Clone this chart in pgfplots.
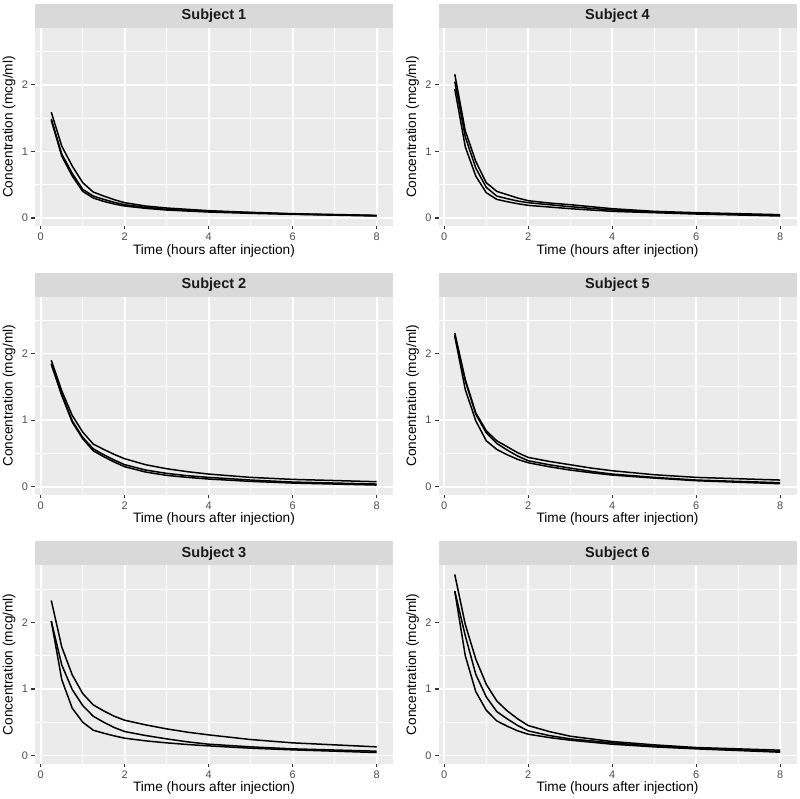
\documentclass[border=0pt]{standalone}
\usepackage{fontspec}
\setmainfont{Liberation Sans}
\usepackage{pgfplots}
\usepackage{pgfplotstable}
\pgfplotsset{compat=1.18}
\definecolor{panelbg}{HTML}{EBEBEB}
\definecolor{stripbg}{HTML}{D9D9D9}
\definecolor{gtick}{HTML}{333333}
\definecolor{gtext}{HTML}{4D4D4D}
\definecolor{gstrip}{HTML}{1A1A1A}

% Subject data: time, three fitted curves
\pgfplotstableread{
t a b c
0.25 1.59 1.49 1.47
0.5 1.08 0.96 0.93
0.75 0.78 0.67 0.63
1 0.53 0.43 0.40
1.25 0.39 0.33 0.30
1.5 0.33 0.28 0.25
1.75 0.275 0.235 0.21
2 0.23 0.20 0.18
2.5 0.18 0.16 0.145
3 0.15 0.13 0.12
3.5 0.13 0.115 0.105
4 0.11 0.10 0.09
5 0.085 0.08 0.07
6 0.065 0.06 0.055
8 0.04 0.035 0.03
}\subjA
\pgfplotstableread{
t a b c
0.25 1.90 1.85 1.84
0.5 1.44 1.39 1.37
0.75 1.07 0.99 0.97
1 0.82 0.74 0.72
1.25 0.64 0.57 0.54
1.5 0.56 0.48 0.45
1.75 0.485 0.40 0.37
2 0.42 0.33 0.30
2.5 0.33 0.25 0.22
3 0.27 0.20 0.17
3.5 0.225 0.165 0.14
4 0.19 0.14 0.115
5 0.14 0.10 0.08
6 0.11 0.07 0.055
8 0.075 0.04 0.025
}\subjB
\pgfplotstableread{
t a b c
0.25 2.33 2.02 2.02
0.5 1.63 1.36 1.14
0.75 1.21 0.99 0.71
1 0.93 0.75 0.50
1.25 0.76 0.59 0.38
1.5 0.67 0.50 0.335
1.75 0.59 0.42 0.295
2 0.53 0.36 0.26
2.5 0.46 0.30 0.22
3 0.40 0.25 0.19
3.5 0.35 0.205 0.165
4 0.31 0.17 0.145
5 0.24 0.13 0.11
6 0.19 0.10 0.085
8 0.13 0.065 0.045
}\subjC
\pgfplotstableread{
t a b c
0.25 2.16 2.05 1.94
0.5 1.31 1.22 1.07
0.75 0.85 0.75 0.63
1 0.53 0.46 0.38
1.25 0.40 0.33 0.28
1.5 0.35 0.29 0.245
1.75 0.30 0.255 0.215
2 0.26 0.23 0.19
2.5 0.225 0.20 0.165
3 0.20 0.17 0.14
3.5 0.17 0.145 0.12
4 0.14 0.12 0.10
5 0.10 0.09 0.08
6 0.08 0.07 0.06
8 0.05 0.04 0.03
}\subjD
\pgfplotstableread{
t a b c
0.25 2.31 2.28 2.26
0.5 1.61 1.59 1.46
0.75 1.11 1.09 0.99
1 0.84 0.81 0.69
1.25 0.69 0.65 0.56
1.5 0.60 0.55 0.48
1.75 0.51 0.46 0.41
2 0.44 0.39 0.36
2.5 0.38 0.33 0.30
3 0.33 0.28 0.25
3.5 0.28 0.23 0.21
4 0.24 0.19 0.175
5 0.18 0.14 0.13
6 0.14 0.10 0.09
8 0.10 0.06 0.045
}\subjE
\pgfplotstableread{
t a b c
0.25 2.72 2.47 2.47
0.5 1.97 1.80 1.50
0.75 1.45 1.22 0.96
1 1.07 0.88 0.68
1.25 0.82 0.66 0.52
1.5 0.67 0.55 0.44
1.75 0.55 0.45 0.37
2 0.45 0.37 0.32
2.5 0.36 0.30 0.27
3 0.29 0.25 0.23
3.5 0.25 0.22 0.20
4 0.21 0.19 0.17
5 0.16 0.14 0.13
6 0.12 0.11 0.10
8 0.08 0.06 0.05
}\subjF

\pgfplotsset{
  panel/.style={
    width=358bp, height=198bp, scale only axis,
    xmin=-0.1375, xmax=8.3875, ymin=-0.12, ymax=2.855,
    axis background/.style={fill=panelbg},
    axis line style={draw=none},
    xtick={0,2,4,6,8}, ytick={0,1,2},
    minor xtick={1,3,5,7}, minor ytick={0.5,1.5,2.5},
    xmajorgrids, ymajorgrids, xminorgrids, yminorgrids,
    major grid style={white, line width=1.6bp},
    minor grid style={white, line width=0.8bp},
    tick pos=left, tick align=outside,
    major tick length=3.5bp, minor tick length=0pt,
    every tick/.style={gtick, line width=1.1bp},
    ticklabel style={font=\fontsize{11}{13}\selectfont, text=gtext},
    /pgf/number format/assume math mode=true,
    xlabel={Time (hours after injection)},
    ylabel={Concentration (mcg/ml)},
    every axis x label/.style={at={(axis description cs:0.5,0)}, anchor=center, yshift=-24.5bp, font=\fontsize{13.7}{16}\selectfont},
    every axis y label/.style={at={(axis description cs:0,0.5)}, xshift=-25.8bp, rotate=90, anchor=center, font=\fontsize{13.7}{16}\selectfont},
    every axis plot post/.append style={black, solid, mark=none, line width=1.5bp, line join=round},
  }
}
\newcommand{\strip}[2]{%
  \fill[stripbg] (#1.north west) rectangle ([yshift=24bp]#1.north east);
  \node[font=\fontsize{14.6}{17}\selectfont\bfseries, text=gstrip] at ([yshift=12bp]#1.north) {#2};
}

\begin{document}
\begin{tikzpicture}
\path[use as bounding box] (0,0) rectangle (800bp,799bp);
% Left column
\begin{axis}[panel, name=p1, at={(35bp,573bp)}, anchor=south west]
\addplot table[x=t,y=a]{\subjA};
\addplot table[x=t,y=b]{\subjA};
\addplot table[x=t,y=c]{\subjA};
\end{axis}
\strip{p1}{Subject 1}
\begin{axis}[panel, name=p2, at={(35bp,304.3bp)}, anchor=south west]
\addplot table[x=t,y=a]{\subjB};
\addplot table[x=t,y=b]{\subjB};
\addplot table[x=t,y=c]{\subjB};
\end{axis}
\strip{p2}{Subject 2}
\begin{axis}[panel, name=p3, at={(35bp,35.5bp)}, anchor=south west]
\addplot table[x=t,y=a]{\subjC};
\addplot table[x=t,y=b]{\subjC};
\addplot table[x=t,y=c]{\subjC};
\end{axis}
\strip{p3}{Subject 3}
% Right column
\begin{axis}[panel, name=p4, at={(438.5bp,573bp)}, anchor=south west]
\addplot table[x=t,y=a]{\subjD};
\addplot table[x=t,y=b]{\subjD};
\addplot table[x=t,y=c]{\subjD};
\end{axis}
\strip{p4}{Subject 4}
\begin{axis}[panel, name=p5, at={(438.5bp,304.3bp)}, anchor=south west]
\addplot table[x=t,y=a]{\subjE};
\addplot table[x=t,y=b]{\subjE};
\addplot table[x=t,y=c]{\subjE};
\end{axis}
\strip{p5}{Subject 5}
\begin{axis}[panel, name=p6, at={(438.5bp,35.5bp)}, anchor=south west]
\addplot table[x=t,y=a]{\subjF};
\addplot table[x=t,y=b]{\subjF};
\addplot table[x=t,y=c]{\subjF};
\end{axis}
\strip{p6}{Subject 6}
\end{tikzpicture}
\end{document}
